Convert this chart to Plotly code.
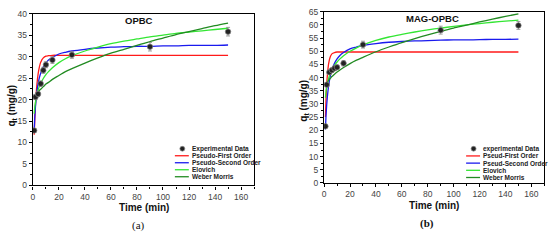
import plotly.graph_objects as go

W, H = 550, 240

# experimental points (both panels share the sampling times)
t_exp = [1, 2, 4, 6, 8, 10, 15, 30, 90, 150]
q_exp_a = [12.8, 20.6, 21.3, 23.7, 26.8, 28.1, 29.2, 30.4, 32.3, 35.8]
err_a = [0.4, 0.6, 0.6, 0.6, 0.7, 0.7, 0.8, 0.8, 1.0, 1.0]
q_exp_b = [21.5, 37.3, 42.0, 42.8, 43.5, 43.9, 45.4, 52.5, 58.0, 59.8]
err_b = [0.5, 0.8, 0.8, 0.8, 0.8, 0.8, 1.0, 1.3, 1.5, 1.5]

# fitted model curves
t_fit = [1, 1.5, 2, 3, 4, 5, 6, 8, 10, 12, 15, 20, 25, 30, 40, 50, 60, 70, 80, 90,
         100, 110, 120, 130, 140, 150]
pfo_a = [11.8, 15.5, 18.9, 23.2, 25.9, 27.6, 28.7, 29.7, 30.1, 30.2, 30.3, 30.3, 30.3,
         30.3, 30.3, 30.3, 30.3, 30.3, 30.3, 30.3, 30.3, 30.3, 30.3, 30.3, 30.3, 30.3]
pso_a = [12.8, 16.1, 18.4, 21.6, 23.7, 25.1, 26.1, 27.6, 28.5, 29.2, 29.8, 30.6, 31.0,
         31.3, 31.7, 32.0, 32.2, 32.3, 32.4, 32.4, 32.5, 32.5, 32.6, 32.6, 32.6, 32.7]
elo_a = [16.7, 18.3, 19.4, 21.0, 22.2, 23.1, 23.8, 24.9, 25.8, 26.5, 27.4, 28.6, 29.5,
         30.2, 31.3, 32.2, 33.0, 33.6, 34.1, 34.6, 35.0, 35.4, 35.7, 36.0, 36.3, 36.6]
wm_a = [20.2, 20.5, 20.8, 21.3, 21.7, 22.1, 22.4, 23.0, 23.6, 24.0, 24.7, 25.6, 26.5,
        27.2, 28.5, 29.7, 30.8, 31.7, 32.6, 33.5, 34.3, 35.1, 35.8, 36.5, 37.2, 37.8]

pfo_b = [25.0, 32.4, 37.4, 43.5, 46.6, 48.2, 49.0, 49.5, 49.7, 49.7, 49.7, 49.7, 49.7,
         49.7, 49.7, 49.7, 49.7, 49.7, 49.7, 49.7, 49.7, 49.7, 49.7, 49.7, 49.7, 49.7]
pso_b = [20.3, 25.7, 29.7, 35.1, 38.6, 41.1, 42.9, 45.4, 47.1, 48.3, 49.5, 50.9, 51.6,
         52.2, 52.9, 53.4, 53.7, 53.9, 54.0, 54.2, 54.3, 54.3, 54.4, 54.5, 54.5, 54.6]
elo_b = [32.4, 34.8, 36.5, 38.9, 40.5, 41.8, 42.9, 44.6, 45.9, 47.0, 48.3, 50.0, 51.3,
         52.4, 54.1, 55.4, 56.4, 57.3, 58.1, 58.8, 59.4, 60.0, 60.5, 61.0, 61.4, 61.8]
wm_b = [36.8, 37.4, 37.8, 38.6, 39.3, 39.8, 40.4, 41.3, 42.1, 42.8, 43.8, 45.3, 46.6,
        47.7, 49.8, 51.6, 53.3, 54.8, 56.2, 57.5, 58.8, 59.9, 61.1, 62.2, 63.2, 64.2]

names_a = ['Experimental Data', 'Pseudo-First Order', 'Pseudo-Second Order', 'Elovich', 'Weber Morris']
names_b = ['experimental Data', 'Pseud-First Order', 'Pseud-Second Order', 'Elovich', 'Weber Morris']
model_colors = ['#ff1a1a', '#1a1aee', '#33e633', '#228b22']

FONT = 'Liberation Sans, Arial, sans-serif'


def px_x(p):
    return p / W


def px_y(p):
    return 1 - p / H


def add_panel(fig, n, q_exp, err, models, names):
    xa, ya = ('x', 'y') if n == 1 else ('x2', 'y2')
    for q, color, name in zip(models, model_colors, names[1:]):
        fig.add_trace(go.Scatter(x=t_fit, y=q, mode='lines', name=name,
                                 line=dict(color=color, width=1.3, shape='spline', smoothing=0.8),
                                 xaxis=xa, yaxis=ya, showlegend=False))
    fig.add_trace(go.Scatter(x=t_exp, y=q_exp, mode='markers', name=names[0],
                             marker=dict(symbol='circle', size=5.5, color='#222',
                                         line=dict(color='#888', width=0.7)),
                             error_y=dict(type='data', array=err, color='#888',
                                          thickness=0.8, width=2),
                             xaxis=xa, yaxis=ya, showlegend=False))


def add_legend(fig, names, x_sym, y_top, step):
    for i, name in enumerate(names):
        y = y_top + i * step
        if i == 0:
            fig.add_shape(type='circle', xref='paper', yref='paper',
                          x0=px_x(x_sym - 2.5), x1=px_x(x_sym + 2.5),
                          y0=px_y(y + 2.5), y1=px_y(y - 2.5),
                          fillcolor='#222', line=dict(color='#888', width=0.7))
        else:
            fig.add_shape(type='line', xref='paper', yref='paper',
                          x0=px_x(x_sym - 7.5), x1=px_x(x_sym + 6.5),
                          y0=px_y(y), y1=px_y(y),
                          line=dict(color=model_colors[i - 1], width=1.3))
        fig.add_annotation(text=f'<b>{name}</b>', xref='paper', yref='paper',
                           x=px_x(x_sym + 7.5), y=px_y(y), xanchor='left', yanchor='middle',
                           showarrow=False, font=dict(family=FONT, size=6.5, color='#222'))


def label(fig, text, x, y, size, angle=0, family=FONT):
    fig.add_annotation(text=text, xref='paper', yref='paper', x=px_x(x), y=px_y(y),
                       xanchor='center', yanchor='middle', showarrow=False, textangle=angle,
                       font=dict(family=family, size=size, color='#111'))


fig = go.Figure()
add_panel(fig, 1, q_exp_a, err_a, [pfo_a, pso_a, elo_a, wm_a], names_a)
add_panel(fig, 2, q_exp_b, err_b, [pfo_b, pso_b, elo_b, wm_b], names_b)

axis_style = dict(showline=True, linecolor='black', linewidth=1.2, mirror=True,
                  ticks='outside', ticklen=3, tickwidth=1, tickcolor='black',
                  showgrid=False, zeroline=False,
                  tickfont=dict(family=FONT, size=8.5, color='#444'))

fig.update_layout(
    width=W, height=H, margin=dict(l=0, r=0, t=0, b=0),
    paper_bgcolor='white', plot_bgcolor='white', showlegend=False,
    xaxis=dict(domain=[px_x(31), px_x(253)], range=[0, 170], dtick=20, anchor='y',
               minor=dict(dtick=10, ticklen=2, ticks='outside', tickcolor='black'), **axis_style),
    yaxis=dict(domain=[px_y(188.3), px_y(9)], range=[0, 40], dtick=5, anchor='x',
               minor=dict(dtick=2.5, ticklen=2, ticks='outside', tickcolor='black'), **axis_style),
    xaxis2=dict(domain=[px_x(323.3), px_x(544.3)], range=[0, 170], dtick=20, anchor='y2',
                minor=dict(dtick=10, ticklen=2, ticks='outside', tickcolor='black'), **axis_style),
    yaxis2=dict(domain=[px_y(185.7), px_y(7)], range=[0, 65], dtick=5, anchor='x2',
                minor=dict(dtick=2.5, ticklen=2, ticks='outside', tickcolor='black'), **axis_style),
)

add_legend(fig, names_a, 181, 150, 7.3)
add_legend(fig, names_b, 473.3, 150, 7.5)

label(fig, '<b>OPBC</b>', 138, 16, 9.5)
label(fig, '<b>MAG-OPBC</b>', 432, 14, 9.5)
label(fig, '<b>Time (min)</b>', 143, 211, 10)
label(fig, '<b>Time (min)</b>', 434, 209, 10)
label(fig, '<b>q<sub>t</sub> (mg/g)</b>', 10, 105, 10, angle=-90)
label(fig, '<b>q<sub>t</sub> (mg/g)</b>', 303, 100, 10, angle=-90)
label(fig, '(a)', 137, 230, 11, family='Liberation Serif, serif')
label(fig, '<b>(b)</b>', 427, 228, 11, family='Liberation Serif, serif')

# drop the default page margin so the 550x240 figure sits at the window origin
fig.write_html('out.html', config={'displayModeBar': False},
               post_script="document.body.style.margin='0';")
